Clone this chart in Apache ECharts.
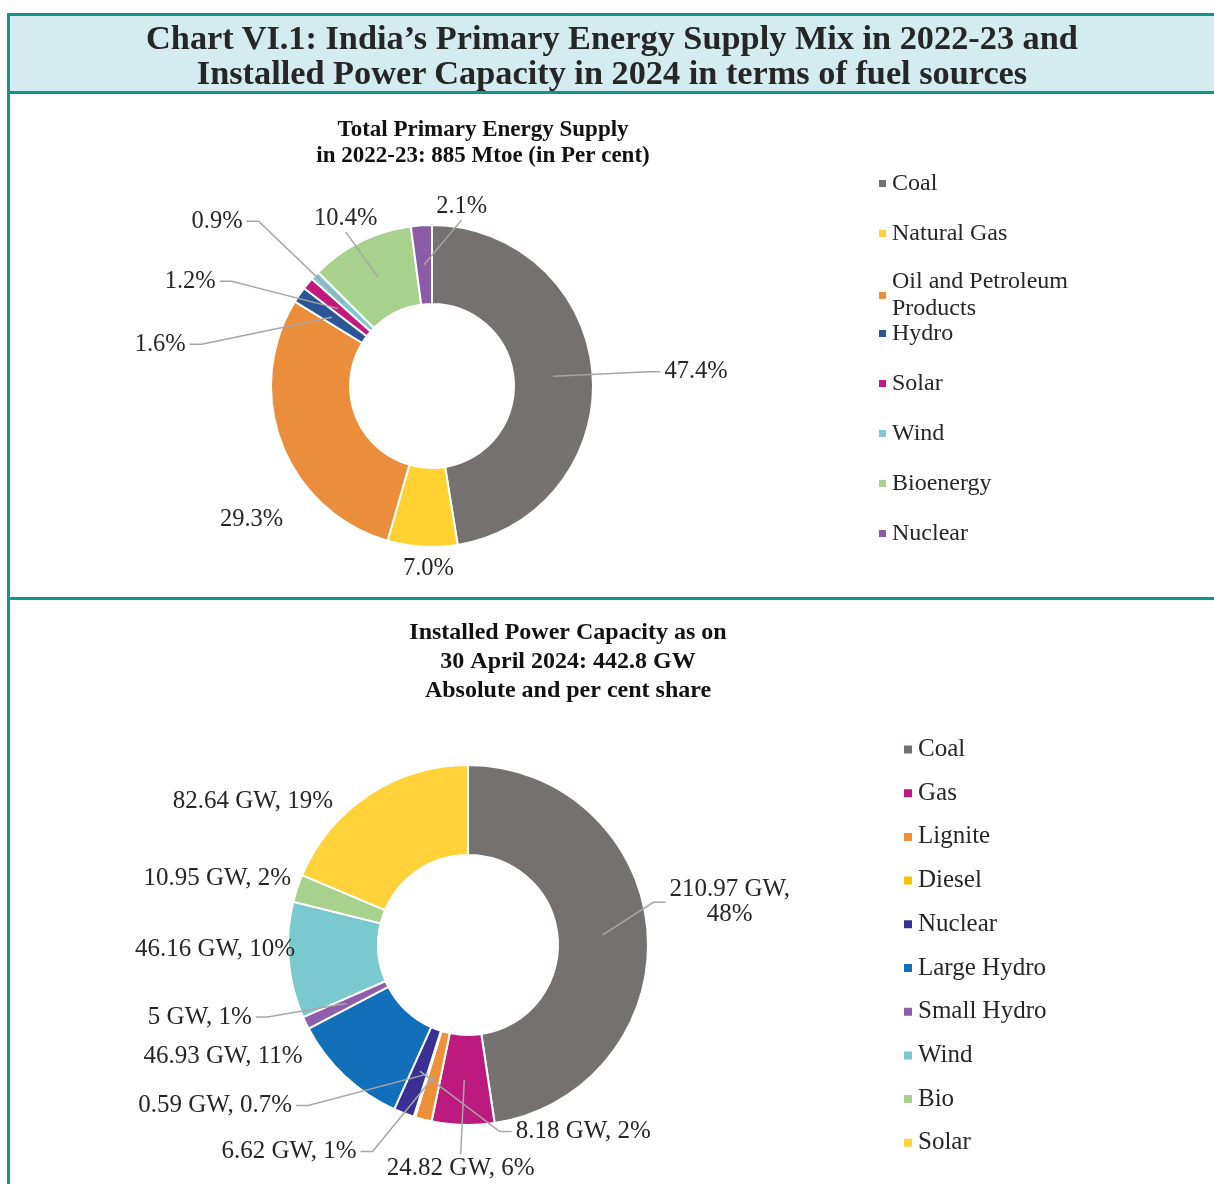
<!DOCTYPE html>
<html>
<head>
<meta charset="utf-8">
<script src="https://cdn.jsdelivr.net/npm/echarts@6/dist/echarts.min.js"></script>
<style>
  html, body { margin: 0; padding: 0; background: #ffffff; }
  body { width: 1214px; height: 1184px; position: relative; overflow: hidden; }
  .ln { position: absolute; background: #12968a; z-index: 5; }
  #band { position: absolute; left: 10px; top: 16px; width: 1204px; height: 75px; background: #d4ecf0; }
  #maintitle { position: absolute; left: 10px; top: 20px; width: 1204px; text-align: center;
    font-family: "Liberation Serif", serif; font-weight: bold; font-size: 34.3px; line-height: 35px; color: #262626; z-index: 6; }
  #c1 { position: absolute; left: 0; top: 0; width: 1214px; height: 598px; }
  #c2 { position: absolute; left: 0; top: 599px; width: 1214px; height: 585px; }
</style>
</head>
<body>
<div id="band"></div>
<div id="maintitle">Chart VI.1: India’s Primary Energy Supply Mix in 2022-23 and<br>Installed Power Capacity in 2024 in terms of fuel sources</div>
<div id="c1"></div>
<div id="c2"></div>
<div class="ln" style="left:7px;top:13px;width:1207px;height:3px;"></div>
<div class="ln" style="left:7px;top:91px;width:1207px;height:3px;"></div>
<div class="ln" style="left:7px;top:597px;width:1207px;height:3px;"></div>
<div class="ln" style="left:7px;top:13px;width:3px;height:1171px;"></div>
<script>
// ---------- Data: Total Primary Energy Supply 2022-23 (per cent) ----------
const supplyNames = ['Coal', 'Natural Gas', 'Oil and Petroleum Products', 'Hydro', 'Solar', 'Wind', 'Bioenergy', 'Nuclear'];
const supplyValues = [47.4, 7.0, 29.3, 1.6, 1.2, 0.9, 10.4, 2.1];
const supplyColors = ['#767171', '#ffd232', '#ea8e3b', '#2a5698', '#c1197e', '#7ccad0', '#a9d18e', '#8c5ba8'];

// ---------- Data: Installed Power Capacity 30 April 2024 (GW) ----------
const capNames = ['Coal', 'Gas', 'Lignite', 'Diesel', 'Nuclear', 'Large Hydro', 'Small Hydro', 'Wind', 'Bio', 'Solar'];
const capValues = [210.97, 24.82, 6.62, 0.59, 8.18, 46.93, 5, 46.16, 10.95, 82.64];
const capShareLabels = ['48%', '6%', '1%', '0.7%', '2%', '11%', '1%', '10%', '2%', '19%'];
const capColors = ['#767171', '#bd1a80', '#ed9138', '#ffc000', '#3a2f93', '#1170b9', '#8e5eab', '#79c9cf', '#a9d18e', '#ffd23a'];

const FONT = 'Liberation Serif';
const TXT = '#262626';
const LINE = '#a6a6a6';

// label nudges (pixels, relative to ECharts' own label placement)
const nudge1 = {
  'Coal': [9, 0], 'Natural Gas': [37, 16], 'Oil and Petroleum Products': [7, 73], 'Hydro': [-41, 27],
  'Solar': [-25, -9], 'Wind': [-19, -42], 'Bioenergy': [81, -16], 'Nuclear': [112, -1]
};
const nudge2 = {
  'Coal': [-41, -28], 'Gas': [117, -2], 'Lignite': [23, 8], 'Diesel': [-7, -11], 'Nuclear': [375, 42],
  'Large Hydro': [3, 11], 'Small Hydro': [16, 18], 'Wind': [15, 12], 'Bio': [-3, 6], 'Solar': [-26, 13]
};

// mid-ring point of a slice, taken from the pie layout ECharts computed
function midRing(chartGetter, p) {
  let lay = null;
  try {
    const inst = chartGetter();
    lay = inst.getModel().getSeriesByIndex(p.seriesIndex).getData().getItemLayout(p.dataIndex);
  } catch (e) { lay = null; }
  if (!lay) return null;
  const a = (lay.startAngle + lay.endAngle) / 2;
  const rm = (lay.r + lay.r0) / 2;
  return [lay.cx + rm * Math.cos(a), lay.cy + rm * Math.sin(a)];
}

function nudger(names, nudge, chartGetter) {
  return function (p) {
    const r = p.labelRect;
    const o = nudge[names[p.dataIndex]] || [0, 0];
    const cx = r.x + r.width / 2 + o[0];
    const top = r.y + o[1];
    const cy = top + r.height / 2;
    const res = { x: cx, y: top, align: 'center', verticalAlign: 'top' };
    const s = midRing(chartGetter, p);
    if (s) {
      const dx = cx - s[0], dy = cy - s[1];
      if (Math.abs(dy) > Math.abs(dx)) {
        const ey = dy < 0 ? top + r.height + 1 : top - 2;
        res.labelLinePoints = [s, [cx, ey], [cx, ey]];
      } else {
        const ex = dx > 0 ? cx - r.width / 2 - 4 : cx + r.width / 2 + 4;
        const bx = dx > 0 ? ex - 12 : ex + 12;
        res.labelLinePoints = [s, [bx, cy], [ex, cy]];
      }
    }
    return res;
  };
}

// draw the leader lines above the ring, as in the original
function raiseGuides(chart) {
  try {
    const zr = chart.getZr();
    zr.storage.traverse(function (el) {
      const g = el.getTextGuideLine && el.getTextGuideLine();
      if (g) { g.z2 = 50; g.markRedraw(); }
    });
    zr.refreshImmediately();
  } catch (e) { /* keep default order */ }
}

// ---------- Chart 1 ----------
const c1 = echarts.init(document.getElementById('c1'), null, { renderer: 'canvas' });
const noLine1 = { 'Natural Gas': true, 'Oil and Petroleum Products': true };
const legendText = function (name) { return name === 'Oil and Petroleum Products' ? 'Oil and Petroleum\nProducts' : name; };
const legendBase1 = {
  orient: 'vertical', left: 877, padding: 0, icon: 'rect', itemWidth: 9, itemHeight: 9, itemTextGap: 11, itemGap: 23,
  selectedMode: false,
  textStyle: { fontFamily: FONT, fontSize: 24, color: TXT, lineHeight: 27, height: 27 },
  formatter: legendText
};
c1.setOption({
  animation: false,
  title: {
    text: 'Total Primary Energy Supply\nin 2022-23: 885 Mtoe (in Per cent)',
    left: 478, top: 112, textAlign: 'center',
    textStyle: { fontFamily: FONT, fontWeight: 'bold', fontSize: 23, lineHeight: 26, color: '#111' }
  },
  legend: [
    Object.assign({}, legendBase1, { top: 170, data: supplyNames.slice(0, 3) }),
    Object.assign({}, legendBase1, { top: 320, data: supplyNames.slice(3) })
  ],
  series: [{
    type: 'pie',
    center: [432, 386],
    radius: [82, 161],
    startAngle: 90,
    clockwise: true,
    avoidLabelOverlap: true,
    itemStyle: { borderColor: '#ffffff', borderWidth: 2 },
    label: {
      show: true, position: 'outside', fontFamily: FONT, fontSize: 24.5, color: TXT,
      formatter: function (p) { return p.value.toFixed(1) + '%'; }
    },
    labelLine: { show: true, showAbove: true, length: 18, length2: 40, lineStyle: { color: LINE, width: 1.5 } },
    labelLayout: nudger(supplyNames, nudge1, function () { return c1; }),
    emphasis: { disabled: true },
    data: supplyNames.map(function (n, i) {
      return {
        name: n, value: supplyValues[i], itemStyle: { color: supplyColors[i] },
        labelLine: noLine1[n] ? { show: false, length: 6, length2: 0 } : undefined
      };
    })
  }]
});
raiseGuides(c1);

// ---------- Chart 2 ----------
const c2 = echarts.init(document.getElementById('c2'), null, { renderer: 'canvas' });
const noLine2 = { 'Large Hydro': true, 'Wind': true, 'Bio': true, 'Solar': true };
c2.setOption({
  animation: false,
  title: {
    text: 'Installed Power Capacity as on\n30 April 2024: 442.8 GW\nAbsolute and per cent share',
    left: 563, top: 14, textAlign: 'center',
    textStyle: { fontFamily: FONT, fontWeight: 'bold', fontSize: 24, lineHeight: 29, color: '#111' }
  },
  legend: {
    orient: 'vertical', left: 902, top: 137, padding: 0, icon: 'rect', itemWidth: 10, itemHeight: 10,
    itemTextGap: 10, itemGap: 16.7, selectedMode: false,
    textStyle: { fontFamily: FONT, fontSize: 25, color: TXT, lineHeight: 27, height: 27 },
    data: capNames
  },
  series: [{
    type: 'pie',
    center: [468, 346],
    radius: [90, 180],
    startAngle: 90,
    clockwise: true,
    avoidLabelOverlap: true,
    itemStyle: { borderColor: '#ffffff', borderWidth: 2 },
    label: {
      show: true, position: 'outside', fontFamily: FONT, fontSize: 25, color: TXT,
      formatter: function (p) {
        const s = p.value + ' GW, ' + capShareLabels[p.dataIndex];
        return p.dataIndex === 0 ? p.value + ' GW,\n' + capShareLabels[0] : s;
      }
    },
    labelLine: { show: true, showAbove: true, length: 18, length2: 40, lineStyle: { color: LINE, width: 1.5 } },
    labelLayout: nudger(capNames, nudge2, function () { return c2; }),
    emphasis: { disabled: true },
    data: capNames.map(function (n, i) {
      return {
        name: n, value: capValues[i], itemStyle: { color: capColors[i] },
        labelLine: noLine2[n] ? { show: false, length: 8, length2: 0 } : undefined
      };
    })
  }]
});
raiseGuides(c2);
</script>
</body>
</html>
